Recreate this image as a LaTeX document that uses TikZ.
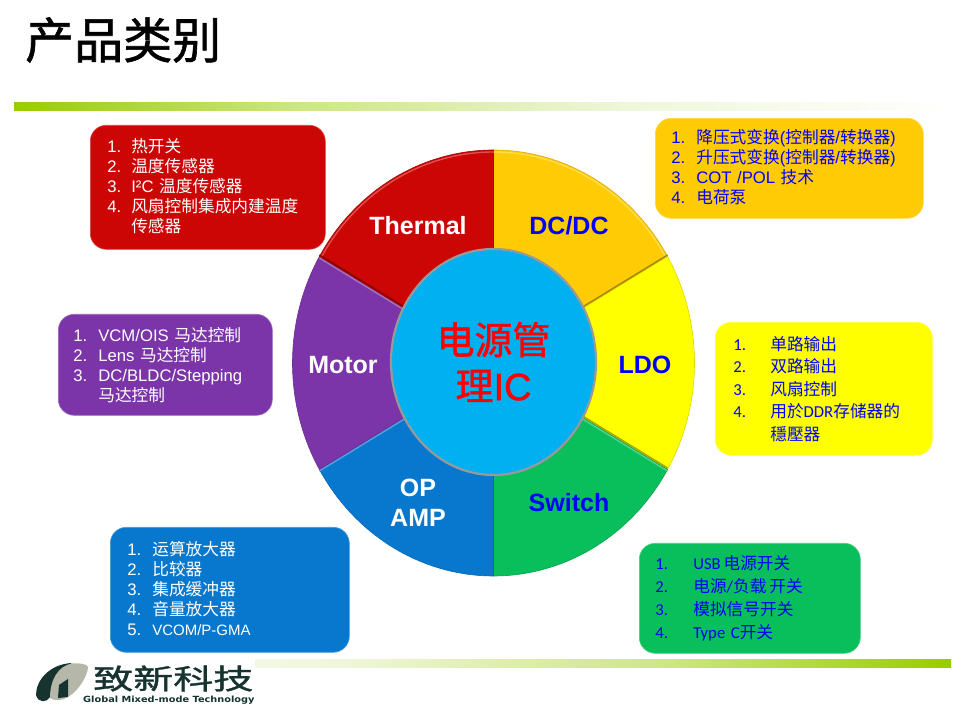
\documentclass[tikz,border=0pt]{standalone}
\usepackage{fontspec}
\setmainfont{Liberation Sans}
\newfontfamily\zhfont{Noto Sans CJK SC}
\newfontfamily\zhbold[FakeBold=1.2]{Noto Sans CJK SC}
\newfontfamily\hubfont[FakeBold=1.2]{Liberation Sans}
\newfontfamily\calfont{Carlito}
\newfontfamily\dvfont{DejaVu Sans}
\usetikzlibrary{shapes.geometric}
\definecolor{cred}{HTML}{CC0505}
\definecolor{corange}{HTML}{FFCB05}
\definecolor{cyellow}{HTML}{FFFF00}
\definecolor{cgreen}{HTML}{08BF5C}
\definecolor{cblue}{HTML}{0878CE}
\definecolor{cpurple}{HTML}{7B35A8}
\definecolor{chub}{HTML}{00B0F0}
\definecolor{cdark}{HTML}{17332F}
\definecolor{clogo}{HTML}{B5B8A8}
\definecolor{cbar}{HTML}{99CC00}
\definecolor{cbarm}{HTML}{CDE681}
\definecolor{cbarl}{HTML}{EFF6DA}
\pgfdeclarehorizontalshading{barfade}{100bp}{color(0bp)=(cbar); color(25bp)=(cbar); color(40bp)=(cbarm); color(57.5bp)=(cbarl); color(75bp)=(white); color(100bp)=(white)}
\newcommand{\Z}[1]{{\zhfont #1}}
\newcommand{\li}[3][24]{\makebox[#1pt][l]{#2}#3}
\newcommand{\lift}[1]{\rule[-#1pt]{0pt}{1pt}}
\tikzset{
  box/.style={fill=#1, draw=#1!75!white, line width=0.6pt, rounded corners=16pt, anchor=north west, align=left, inner ysep=0pt, font=\fontsize{16.7}{20}\selectfont},
  sector/.style={fill=#1, draw=#1!85!black, line width=0.6pt, line join=round},
  rimlight/.style={draw=#1!70!white, line width=1.4pt},
  rimdark/.style={draw=#1!65!black, line width=1.4pt},
  seglabel/.style={font=\fontsize{25}{30}\selectfont\bfseries, align=center, inner sep=0pt},
}
\begin{document}
\begin{tikzpicture}[x=1pt, y=1pt]
  \useasboundingbox (0,0) rectangle (962,714);
  \fill[white] (0,0) rectangle (962,714);

  \node[anchor=west, inner sep=0pt, font=\zhbold\fontsize{49}{49}\selectfont] (title) at (25,674) {产品类别};
  \shade[shading=barfade] (14,603) rectangle (951,611);
  \shade[shading=barfade, shading angle=180] (14,46) rectangle (951,54);

  % ---- wheel
  \coordinate (c) at (493.5,351);
  \coordinate (h) at (493.5,352);
  \foreach \col/\from/\to in {corange/90/30, cyellow/30/-30, cgreen/-30/-90, cblue/-90/-150, cpurple/-150/-210, cred/150/90}{
    \draw[sector=\col] (c) -- ++(\from:201 and 213) arc[start angle=\from, end angle=\to, x radius=201pt, y radius=213pt] -- cycle;
  }
  \draw[rimlight=cred] (c) ++(150:199 and 211) arc[start angle=150, end angle=90, x radius=199pt, y radius=211pt];
  \draw[rimlight=corange] (c) ++(90:199 and 211) arc[start angle=90, end angle=30, x radius=199pt, y radius=211pt];
  \foreach \col/\ang in {cpurple/150, cblue/-150, cgreen/-30}{
    \draw[rimlight=\col] (c) ++(0,-1.5) -- ++(\ang:201 and 213);
  }
  \foreach \col/\ang in {cred/150, corange/30, cyellow/-30}{
    \draw[rimdark=\col] (c) ++(0,1.5) -- ++(\ang:201 and 213);
  }

  \node[ellipse, fill=chub, draw=black!40, line width=2.2pt, minimum width=205pt, minimum height=226pt, inner sep=0pt, align=center, text=red, font=\fontsize{38}{46}\selectfont] (hub) at (h) {{\zhbold 电源管}\\{\zhbold 理}{\hubfont IC}};

  \node[seglabel, text=white] (thermal) at (418,488) {Thermal};
  \node[seglabel, text=blue] (dcdc) at (569,488) {DC/DC};
  \node[seglabel, text=blue] (ldo) at (645,349) {LDO};
  \node[seglabel, text=blue] (switch) at (569,211) {Switch};
  \node[seglabel, text=white] (opamp) at (418,211) {OP\\AMP};
  \node[seglabel, text=white] (motor) at (343,349) {Motor};

  % ---- lists
  \node[box=cred, text=white, minimum width=235pt, minimum height=124pt, inner xsep=17pt, text width=201pt] (thermallist) at (90,589) {%
    \li{1.}{\Z{热开关}}\\\li{2.}{\Z{温度传感器}}\\\li{3.}{I²C \Z{温度传感器}}\\\li{4.}{\Z{风扇控制集成内建温度}}\\\li{}{\Z{传感器}}\lift{4}};
  \node[box=cpurple, text=white, minimum width=214pt, minimum height=101pt, inner xsep=15pt, text width=184pt] (motorlist) at (58,400) {%
    \li[25]{1.}{VCM/OIS \Z{马达控制}}\\\li[25]{2.}{Lens \Z{马达控制}}\\\li[25]{3.}{DC/BLDC/Stepping}\\\li[25]{}{\Z{马达控制}}};
  \node[box=corange, text=blue, minimum width=268pt, minimum height=100pt, inner xsep=16pt, text width=236pt] (dcdclist) at (655,596) {%
    \li[25]{1.}{\Z{降压式变换}(\Z{控制器}/\Z{转换器})}\\\li[25]{2.}{\Z{升压式变换}(\Z{控制器}/\Z{转换器})}\\\li[25]{3.}{COT /POL \Z{技术}}\\\li[25]{4.}{\Z{电荷泵}}\lift{3}};
  \node[box=cyellow, text=blue, minimum width=217pt, minimum height=133pt, inner xsep=18pt, text width=181pt, font=\calfont\fontsize{16.7}{22.5}\selectfont] (ldolist) at (715,392) {%
    \li[37]{1.}{\Z{单路输出}}\\\li[37]{2.}{\Z{双路输出}}\\\li[37]{3.}{\Z{风扇控制}}\\\li[37]{4.}{\Z{用於}DDR\Z{存储器的}}\\\li[37]{}{\Z{穩壓器}}};
  \node[box=cblue, text=white, minimum width=239pt, minimum height=125pt, inner xsep=17pt, text width=205pt] (opamplist) at (110,187) {%
    \li[25]{1.}{\Z{运算放大器}}\\\li[25]{2.}{\Z{比较器}}\\\li[25]{3.}{\Z{集成缓冲器}}\\\li[25]{4.}{\Z{音量放大器}}\\\li[25]{5.}{\fontsize{15}{20}\selectfont VCOM/P-GMA}\lift{3}};
  \node[box=cgreen, text=blue, minimum width=221pt, minimum height=110pt, inner xsep=16pt, text width=189pt, font=\calfont\fontsize{16.7}{23}\selectfont] (switchlist) at (639,171) {%
    \li[38]{1.}{USB\,\Z{电源开关}}\\\li[38]{2.}{\Z{电源}/\Z{负载}\,\Z{开关}}\\\li[38]{3.}{\Z{模拟信号开关}}\\\li[38]{4.}{Type C\Z{开关}}};

  % ---- logo
  \fill[white] (0,0) rectangle (255,58);
  \fill[cdark] (36,19) .. controls (36,34) and (50,50) .. (72,51) .. controls (60,46) and (52,34) .. (50,17) .. controls (47,11) and (38,11) .. (36,19) -- cycle;
  \fill[clogo] (50,16) .. controls (50,34) and (58,48) .. (72,50.5) .. controls (80,51) and (87,50) .. (88,47) .. controls (88,40) and (80,24) .. (68,17) .. controls (62,13) and (54,13) .. (50,16) -- cycle;
  \fill[cdark] (58,16) -- (59,29) -- (68,35) -- (68,17) -- cycle;
  \node[anchor=west, inner sep=0pt, text=cdark, font=\zhbold\fontsize{28}{28}\selectfont] (logotext) at (93,35.5) {\scalebox{1.43}[1]{致新科技}};
  \node[anchor=west, inner sep=0pt, text=cdark, font=\dvfont\fontsize{8.5}{9}\selectfont\bfseries] (logosub) at (83,14) {\scalebox{1.15}[1]{Global Mixed-mode Technology}};
\end{tikzpicture}
\end{document}
